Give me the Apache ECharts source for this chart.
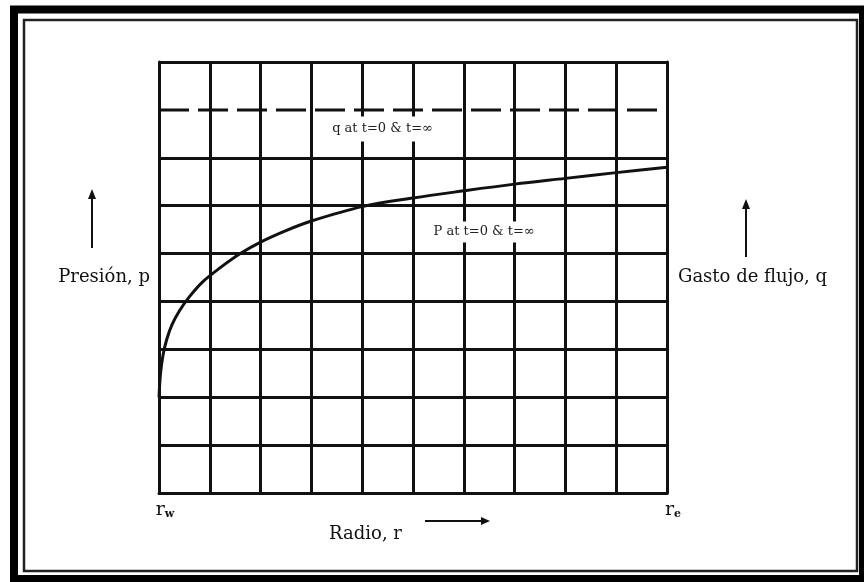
<!DOCTYPE html>
<html>
<head>
<meta charset="utf-8">
<script src="https://cdn.jsdelivr.net/npm/echarts@6/dist/echarts.min.js"></script>
<style>
  html, body { margin: 0; padding: 0; background: #fff; }
  #chart { width: 864px; height: 582px; }
</style>
</head>
<body>
<div id="chart"></div>
<script>
// datos (radio en columnas de la rejilla, presion en filas)
const radio = [0, 0.03, 0.08, 0.15, 0.25, 0.4, 0.6, 0.85, 1.2, 1.6, 2, 2.5, 3, 4, 5, 6, 7, 8, 9, 10];
const presion = [2.0, 2.5, 2.88, 3.2, 3.5, 3.8, 4.1, 4.4, 4.7, 5.0, 5.24, 5.48, 5.68, 5.98, 6.16, 6.31, 6.45, 6.57, 6.69, 6.8];
const radioGasto = [0, 10];
const gasto = [8, 8];
const tickLabels = ['w', '', '', '', '', '', '', '', '', '', 'e'];

const serif = 'DejaVu Serif';

let myChart = echarts.init(document.getElementById('chart'));

// lineas de la rejilla: la de q (fila 8) va punteada como serie
let gridColors = [];
for (let i = 0; i <= 9; i++) {
    gridColors.push(i === 8 ? 'rgba(0,0,0,0)' : '#111');
}

let option = {
    backgroundColor: '#fff',
    animation: false,
    grid: {
        left: 159,
        top: 62,
        width: 508,
        height: 431
    },
    xAxis: {
        type: 'value',
        min: 0,
        max: 10,
        interval: 1,
        name: 'Radio, r',
        nameLocation: 'middle',
        nameGap: 19,
        nameTextStyle: {
            fontFamily: serif,
            fontSize: 18,
            color: '#111',
            padding: [0, 95, 0, 0]
        },
        axisLine: { show: true, lineStyle: { color: '#111', width: 3 } },
        axisTick: { show: false },
        axisLabel: {
            margin: 7,
            padding: [0, 0, 0, 12],
            formatter: (v) => {
                let s = tickLabels[Math.round(v)];
                return s ? '{r|r}{s|' + s + '}' : '';
            },
            rich: {
                r: { fontFamily: serif, fontSize: 19, color: '#111' },
                s: { fontFamily: serif, fontSize: 11, color: '#111', fontWeight: 'bold', padding: [9, 0, 0, 0] }
            }
        },
        splitLine: { show: true, lineStyle: { color: '#111', width: 3 } }
    },
    yAxis: [{
        type: 'value',
        min: 0,
        max: 9,
        interval: 1,
        name: 'Presión, p',
        nameLocation: 'middle',
        nameRotate: 0,
        nameGap: 9,
        nameTextStyle: {
            fontFamily: serif,
            fontSize: 18,
            color: '#111',
            padding: [14, 0, 0, 0]
        },
        axisLine: { show: true, lineStyle: { color: '#111', width: 3 } },
        axisTick: { show: false },
        axisLabel: { show: false },
        splitLine: { show: true, lineStyle: { color: gridColors, width: 3 } }
    }, {
        type: 'value',
        position: 'right',
        min: 0,
        max: 9,
        interval: 1,
        name: 'Gasto de flujo, q',
        nameLocation: 'middle',
        nameRotate: 0,
        nameGap: 11,
        nameTextStyle: {
            fontFamily: serif,
            fontSize: 18,
            color: '#111',
            padding: [8, 0, 0, 0]
        },
        axisLine: { show: true, lineStyle: { color: '#111', width: 3 } },
        axisTick: { show: false },
        axisLabel: { show: false },
        splitLine: { show: false }
    }],
    series: [{
        name: 'q',
        type: 'line',
        data: radioGasto.map((r, i) => [r, gasto[i]]),
        symbol: 'none',
        lineStyle: { color: '#111', width: 3, type: [30, 9] },
        markPoint: {
            symbol: 'rect',
            symbolSize: 0,
            data: [{ coord: [4.4, 7.6] }],
            label: {
                show: true,
                position: 'inside',
                formatter: 'q at t=0 & t=\u221e',
                fontFamily: serif,
                fontSize: 13,
                color: '#222',
                backgroundColor: '#fff',
                padding: [6, 14, 6, 14]
            }
        },
        z: 3
    }, {
        name: 'p',
        type: 'line',
        data: radio.map((r, i) => [r, presion[i]]),
        symbol: 'none',
        smooth: 0.35,
        lineStyle: { color: '#111', width: 3 },
        markPoint: {
            symbol: 'rect',
            symbolSize: 0,
            data: [{ coord: [6.4, 5.45] }],
            label: {
                show: true,
                position: 'inside',
                formatter: 'P at t=0 & t=\u221e',
                fontFamily: serif,
                fontSize: 13,
                color: '#222',
                backgroundColor: '#fff',
                padding: [4, 14, 4, 14]
            }
        },
        z: 4
    }],
    graphic: [
        // marco doble
        { type: 'rect', shape: { x: 14, y: 9.5, width: 849, height: 569.5 },
          style: { fill: null, stroke: '#000', lineWidth: 8 }, silent: true },
        { type: 'rect', shape: { x: 24, y: 20, width: 833, height: 551 },
          style: { fill: null, stroke: '#222', lineWidth: 2.5 }, silent: true },
        // flechas
        { type: 'line', shape: { x1: 92, y1: 196, x2: 92, y2: 248 },
          style: { stroke: '#111', lineWidth: 2 } },
        { type: 'polygon', shape: { points: [[88, 199], [96, 199], [92, 189]] },
          style: { fill: '#111' } },
        { type: 'line', shape: { x1: 746, y1: 206, x2: 746, y2: 257 },
          style: { stroke: '#111', lineWidth: 2 } },
        { type: 'polygon', shape: { points: [[742, 209], [750, 209], [746, 199]] },
          style: { fill: '#111' } },
        { type: 'line', shape: { x1: 425, y1: 521, x2: 484, y2: 521 },
          style: { stroke: '#111', lineWidth: 2 } },
        { type: 'polygon', shape: { points: [[481, 517], [481, 525], [490, 521]] },
          style: { fill: '#111' } }
    ]
};

myChart.setOption(option);
</script>
</body>
</html>
